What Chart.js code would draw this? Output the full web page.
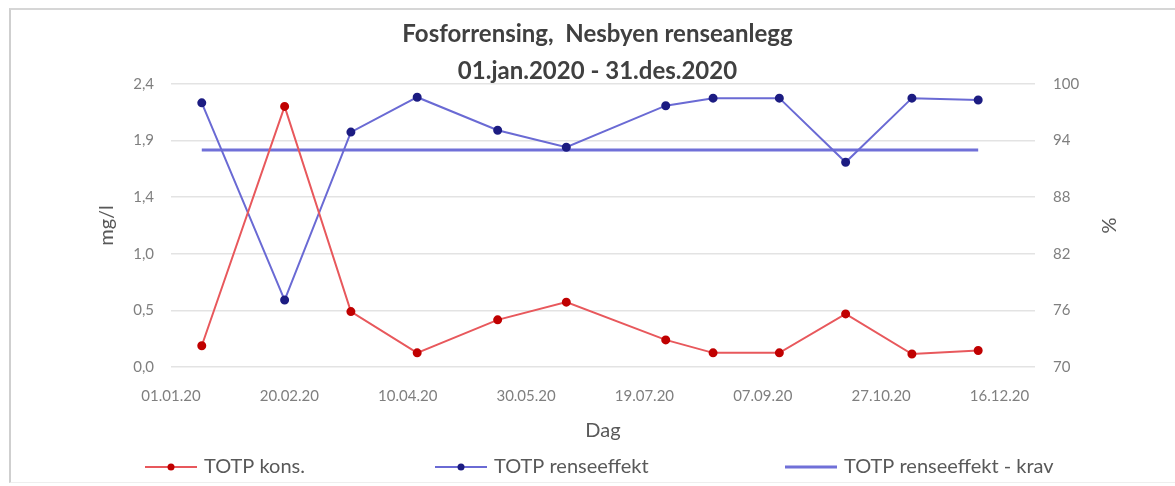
<!DOCTYPE html>
<html>
<head>
<meta charset="utf-8">
<script src="https://cdn.jsdelivr.net/npm/chart.js@4"></script>
<style>
  html, body { margin: 0; padding: 0; background: #fff; }
  #wrap { position: relative; width: 1175px; height: 486px; overflow: hidden; }
  #frame { position: absolute; left: 9px; top: 8px; width: 1180px; height: 472px;
           border-left: 2px solid #cfcfcf; border-top: 2px solid #d6d6d6; border-bottom: 1px solid #eeeeee; }
  #diagramCanvas { position: absolute; left: 0; top: 0; }
</style>
</head>
<body>
<div id="wrap">
  <div id="frame"></div>
  <canvas id="diagramCanvas" width="1175" height="486"></canvas>
</div>
<script>
//Chart data
const sampleDates = ['14.01.20', '18.02.20', '17.03.20', '14.04.20', '18.05.20', '16.06.20',
                     '28.07.20', '17.08.20', '14.09.20', '12.10.20', '09.11.20', '07.12.20']

const totpKons = [0.18, 2.21, 0.47, 0.12, 0.40, 0.55, 0.23, 0.12, 0.12, 0.45, 0.11, 0.14]

const totpRenseeffekt = [98.0, 77.1, 94.9, 98.6, 95.1, 93.3, 97.7, 98.5, 98.5, 91.7, 98.5, 98.3]

const totpKrav = [93, 93, 93, 93, 93, 93, 93, 93, 93, 93, 93, 93]

const seriesNames = ['TOTP kons.', 'TOTP renseeffekt', 'TOTP renseeffekt - krav']

const titleLines = ['Fosforrensing,  Nesbyen renseanlegg', '01.jan.2020 - 31.des.2020']



//Date helpers (day number counted from 01.01.2020)
const dayMs = 86400000
const startUtc = Date.UTC(2020, 0, 1)

function dayNumber(text)
{
    const [d, m, y] = text.split('.').map(item => parseInt(item, 10))
    return Math.round((Date.UTC(2000 + y, m - 1, d) - startUtc) / dayMs)
}

function dayLabel(value)
{
    const date = new Date(startUtc + value * dayMs)
    const pad = n => String(n).padStart(2, '0')
    return pad(date.getUTCDate()) + '.' + pad(date.getUTCMonth() + 1) + '.' + String(date.getUTCFullYear()).slice(2)
}

const toPoints = values => values.map((v, i) => ({x: dayNumber(sampleDates[i]), y: v}))



//Legend drawn in the canvas, Excel style (line sample with marker)
const legendItems = [
    {x: 145, line: '#e8585c', marker: '#c00000', showMarker: true},
    {x: 435, line: '#6a6ad4', marker: '#1c1c82', showMarker: true},
    {x: 785, line: '#7070d8', marker: null, showMarker: false}
]

const excelLegend = {
    id: 'excelLegend',
    afterDraw(chart)
    {
        const ctx = chart.ctx
        const y = 467
        ctx.save()
        ctx.font = '20px Lato, "Open Sans", sans-serif'
        ctx.textBaseline = 'middle'
        legendItems.forEach((item, i) => {
            ctx.strokeStyle = item.line
            ctx.lineWidth = item.showMarker ? 2 : 3
            ctx.beginPath()
            ctx.moveTo(item.x, y)
            ctx.lineTo(item.x + 52, y)
            ctx.stroke()
            if (item.showMarker)
            {
                ctx.fillStyle = item.marker
                ctx.beginPath()
                ctx.arc(item.x + 26, y, 3.5, 0, Math.PI * 2)
                ctx.fill()
            }
            ctx.fillStyle = '#595959'
            ctx.fillText(seriesNames[i], item.x + 59, y)
        })
        ctx.restore()
    }
}



Chart.defaults.font.family = 'Lato, "Open Sans", sans-serif'
Chart.defaults.color = '#7f7f7f'

const diagramCanvas = document.getElementById('diagramCanvas')
const diagramChart = new Chart(
    diagramCanvas,
    {
        type: 'line',
        data:
        {
            datasets:
            [
                {
                    label: seriesNames[0],
                    data: toPoints(totpKons),
                    yAxisID: 'y',
                    borderColor: '#e8585c',
                    borderWidth: 2,
                    pointBackgroundColor: '#c00000',
                    pointBorderColor: '#c00000',
                    pointRadius: 3.5,
                    tension: 0
                },
                {
                    label: seriesNames[1],
                    data: toPoints(totpRenseeffekt),
                    yAxisID: 'y2',
                    borderColor: '#6a6ad4',
                    borderWidth: 2,
                    pointBackgroundColor: '#1c1c82',
                    pointBorderColor: '#1c1c82',
                    pointRadius: 3.5,
                    tension: 0
                },
                {
                    label: seriesNames[2],
                    data: toPoints(totpKrav),
                    yAxisID: 'y2',
                    borderColor: '#7070d8',
                    borderWidth: 3,
                    pointRadius: 0,
                    tension: 0
                }
            ]
        },
        options:
        {
            responsive: false,
            animation: false,
            layout:
            {
                padding: {left: 20, right: 0, top: 0, bottom: 40}
            },
            scales:
            {
                x:
                {
                    type: 'linear',
                    min: 0,
                    max: 365,
                    grid: {display: false},
                    border: {display: false},
                    ticks:
                    {
                        stepSize: 50,
                        includeBounds: false,
                        maxRotation: 0,
                        padding: 12,
                        font: {size: 15},
                        callback: value => dayLabel(value)
                    },
                    title:
                    {
                        display: true,
                        text: 'Dag',
                        color: '#595959',
                        font: {size: 20},
                        padding: {top: 0, bottom: 3}
                    },
                    afterFit: scale => { scale.height = 79 }
                },
                y:
                {
                    position: 'left',
                    min: 0,
                    max: 2.4,
                    grid: {color: '#e3e3e3', lineWidth: 1.5, drawTicks: false},
                    border: {display: false},
                    ticks:
                    {
                        stepSize: 0.48,
                        padding: 17,
                        font: {size: 15},
                        callback: value => value.toFixed(1).replace('.', ',')
                    },
                    title:
                    {
                        display: true,
                        text: 'mg/l',
                        color: '#595959',
                        font: {size: 20},
                        padding: {top: 75, bottom: 0}
                    },
                    afterFit: scale => { scale.width = 151 }
                },
                y2:
                {
                    position: 'right',
                    min: 70,
                    max: 100,
                    grid: {display: false, drawTicks: false},
                    border: {display: false},
                    ticks:
                    {
                        stepSize: 6,
                        padding: 18,
                        font: {size: 15}
                    },
                    title:
                    {
                        display: true,
                        text: '%',
                        color: '#595959',
                        font: {size: 20},
                        padding: {top: 55, bottom: 0}
                    },
                    afterFit: scale => { scale.width = 140 }
                }
            },
            plugins:
            {
                legend: {display: false},
                tooltip: {enabled: false},
                title:
                {
                    display: true,
                    text: titleLines,
                    color: '#404040',
                    font: {size: 24, weight: 'bold', lineHeight: '37px'},
                    padding: {top: 16, bottom: -6}
                }
            }
        },
        plugins: [excelLegend]
    }
);
</script>
</body>
</html>
